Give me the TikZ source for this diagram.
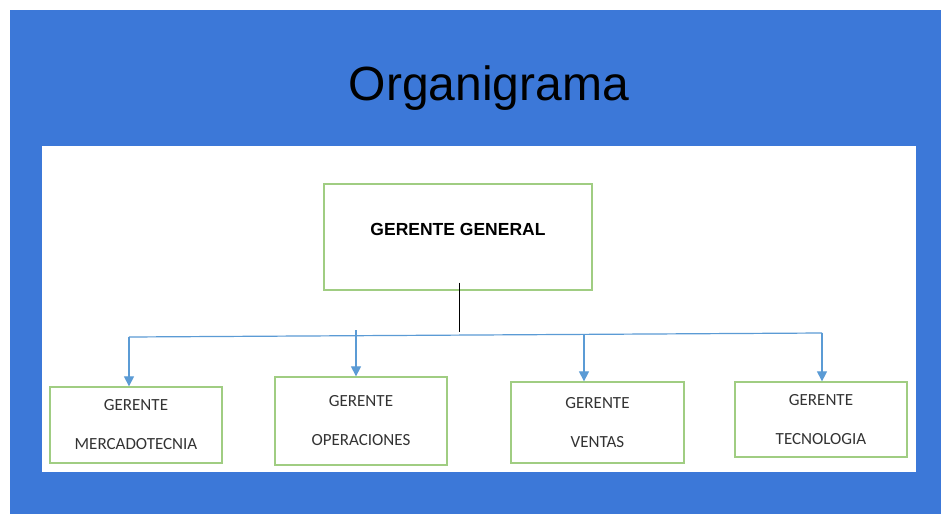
\documentclass[tikz,border=0pt]{standalone}
\usepackage{fontspec}
\setmainfont{Liberation Sans}
\newfontfamily\calibri{Carlito}
\usetikzlibrary{arrows.meta}

\definecolor{fondo}{RGB}{60,120,216}
\definecolor{borde}{RGB}{160,205,130}
\definecolor{flecha}{RGB}{91,155,213}

\tikzset{
    caja/.style={draw=borde,line width=1.3pt,fill=white,inner sep=0pt},
    texto/.style={font=\calibri\fontsize{17}{39}\selectfont,text=black!80,align=center},
    conector/.style={draw=flecha,line width=1.2pt},
    punta/.style={-{Triangle[length=10pt,width=10pt]}},
}

\begin{document}
\begin{tikzpicture}[x=1pt,y=1pt,yscale=-1,xscale=1]
        \useasboundingbox (0,0) rectangle (941,514);
        % fondo azul y panel blanco
        \fill[fondo] (10,10) rectangle (941,514);
        \fill[white] (42,146) rectangle (916,472);

        % Titulo
        \node[anchor=base,font=\fontsize{48}{48}\selectfont] (titulo) at (489,100) {Organigrama};

        % Gerente general
        \node[caja,minimum width=268pt,minimum height=106pt] (gg) at (458,237) {};
        \node[font=\bfseries\fontsize{17.5}{20}\selectfont] (ggtexto) at (458,229) {GERENTE GENERAL};

        % Gerentes de area
        \node[caja,texto,minimum width=172pt,minimum height=76pt] (merc) at (136,425) {GERENTE\\MERCADOTECNIA};
        \node[caja,texto,minimum width=172pt,minimum height=88pt] (oper) at (361,421) {GERENTE\\OPERACIONES};
        \node[caja,texto,minimum width=173pt,minimum height=81pt] (ventas) at (597.5,422.5) {GERENTE\\VENTAS};
        \node[caja,texto,minimum width=172pt,minimum height=75pt] (tec) at (821,419.5) {GERENTE\\TECNOLOGIA};

        % Conectores
        \coordinate (baja) at (459,332);
        \coordinate (ramaA) at (129,337);
        \coordinate (ramaB) at (356,330);
        \coordinate (ramaC) at (584,334.5);
        \coordinate (ramaD) at (822,333);
        \draw[line width=1pt] ([yshift=-8pt]gg.south -| baja) -- (baja);
        \draw[conector] (ramaA) -- (ramaD);
        \draw[conector,punta] (ramaA) -- (ramaA |- merc.north);
        \draw[conector,punta] (ramaB) -- (ramaB |- oper.north);
        \draw[conector,punta] (ramaC) -- (ramaC |- ventas.north);
        \draw[conector,punta] (ramaD) -- (ramaD |- tec.north);
\end{tikzpicture}
\end{document}
